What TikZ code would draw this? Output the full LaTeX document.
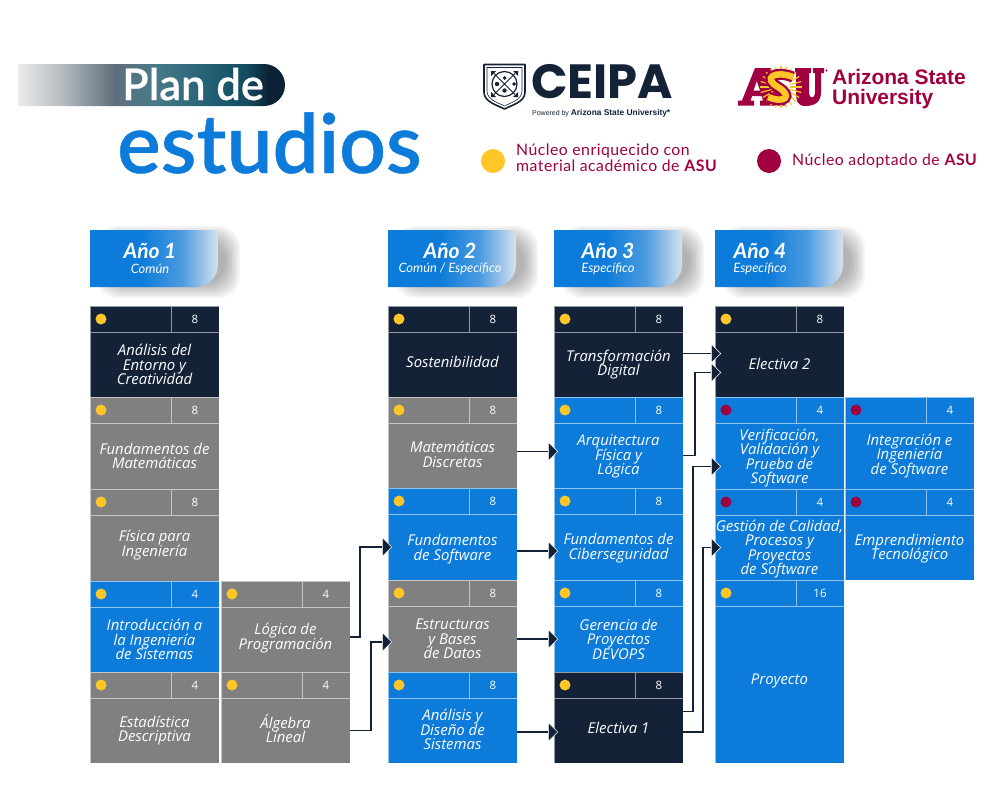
\documentclass[tikz,border=0pt]{standalone}
\usepackage{fontspec}
\setmainfont{Open Sans}
\newfontfamily\latofont{Lato}
\newfontfamily\latosemi[FakeBold=0.5]{Lato Semibold}
\newfontfamily\legendfont[LetterSpace=3]{Lato}
\newfontfamily\poppinsfont{Poppins}
\newfontfamily\armfont[LetterSpace=-0.3]{Liberation Sans}
\usetikzlibrary{arrows.meta}
\definecolor{navy}{HTML}{142238}
\definecolor{slate}{HTML}{808080}
\definecolor{azure}{HTML}{0C7BD9}
\definecolor{gold}{HTML}{FFC627}
\definecolor{wine}{HTML}{A0003F}
\definecolor{barB}{HTML}{B8BDC2}
\definecolor{barC}{HTML}{5F6F7C}
\definecolor{barD}{HTML}{467A88}
\definecolor{barE}{HTML}{1C5A6E}
\definecolor{barG}{HTML}{134A5E}
\definecolor{barF}{HTML}{0C2236}
\definecolor{paleblue}{HTML}{D5E2EE}
\definecolor{midblue}{HTML}{4C9BE0}
\pgfdeclarehorizontalshading{planbar}{100bp}{color(0bp)=(white); color(25bp)=(white!92!black); color(33bp)=(barB); color(43bp)=(barC); color(51bp)=(barD); color(63bp)=(barE); color(68bp)=(barG); color(72bp)=(barF); color(100bp)=(barF)}
\pgfdeclarehorizontalshading{yearfade}{100bp}{color(0bp)=(azure); color(45bp)=(azure); color(61bp)=(midblue); color(75bp)=(paleblue); color(100bp)=(paleblue)}
\newcommand{\celltext}{\fontsize{14.9}{14.5}\selectfont\itshape\setlength{\lineskiplimit}{-5pt}}
\tikzstyle{cell}=[shape=rectangle,draw=white,draw opacity=.55,line width=.8pt,inner sep=0pt,outer sep=0pt,anchor=north west,text=white]
\tikzstyle{dot}=[shape=circle,inner sep=0pt,outer sep=0pt,minimum size=11pt]
\tikzstyle{link}=[-{Triangle[length=10pt,width=20pt,line width=.5pt,color=white,fill=navy]},draw=navy,line width=1.4pt,shorten >=-4pt]
\tikzstyle{yeartitle}=[inner sep=0pt,text=white,font=\latofont\fontsize{21}{21}\selectfont\bfseries\itshape]
\tikzstyle{yearsub}=[inner sep=0pt,text=white,font=\latofont\fontsize{12.9}{13}\selectfont\itshape]
% name, x, y, height, colour, dot colour, credits, title, title offset
\newcommand{\course}[9]{
        \node[cell,fill=#5,minimum width=81pt,minimum height=26pt] (#1h) at (#2,#3) {};
        \node[cell,fill=#5,minimum width=48pt,minimum height=26pt,font=\fontsize{11.5}{12}\selectfont] (#1c) at (#1h.north east) {#7};
        \node[dot,fill=#6] (#1d) at ([xshift=11pt]#1h.west) {};
        \node[cell,fill=#5,minimum width=129pt,minimum height=#4pt-26pt] (#1) at (#1h.south west) {};
        \node[inner sep=0pt,text=white,align=center,font=\celltext] (#1t) at ([yshift=#9pt]#1.center) {#8};
}
% name, x, text x, title, subtitle
\newcommand{\yearbox}[5]{
        \foreach \s in {0,2,...,14}
            \fill[black,opacity=.045,rounded corners=22pt] (#2+20-\s,240-\s) rectangle (#2+136+\s,284+\s);
        \shade[shading=yearfade] (#2,230) -- (#2+128,230) {[rounded corners=22pt] -- (#2+128,287)} -- (#2,287) -- cycle;
        \node[yeartitle] (#1) at (#3,251) {#4};
        \node[yearsub] (#1s) at (#3,268.5) {#5};
}
\begin{document}
\begin{tikzpicture}[x=1pt,y=-1pt]
        \useasboundingbox (0,0) rectangle (1001,801);
        % title
        \shade[shading=planbar,rounded corners=21pt] (18,64) {[sharp corners] -- (18,106)} -- (285,106) -- (285,64) {[sharp corners] -- cycle};
        \node[anchor=base west,inner sep=0pt,text=white,font=\latosemi\fontsize{43.5}{44}\selectfont] (plan) at (122,100) {Plan de};
        \node[anchor=base west,inner sep=0pt,text=azure,font=\latosemi\fontsize{82}{82}\selectfont] (estudios) at (117,173) {estudios};
        % ceipa logo
        \draw[navy,line width=1.6pt,line join=round] (484,64.5) -- (525,64.5) -- (525,92) .. controls (525,102) and (512,105) .. (504.5,109) .. controls (497,105) and (484,102) .. (484,92) -- cycle;
        \draw[navy,line width=.6pt] (487,67.5) -- (522,67.5) -- (522,91) .. controls (522,100) and (510,103) .. (504.5,106) .. controls (499,103) and (487,100) .. (487,91) -- cycle;
        \draw[navy,line width=1.2pt] (504.5,84) circle (12.5pt);
        \draw[navy,line width=1pt] (494,73.5) -- (515,94.5) (515,73.5) -- (494,94.5);
        \fill[navy] (504.5,76) -- (506.5,78) -- (504.5,80) -- (502.5,78) -- cycle (512,84) -- (514,82) -- (516,84) -- (514,86) -- cycle (497,84) circle (2.2pt) (504.5,90.5) circle (2.2pt);
        \fill[navy] (491,71) -- (496,71) -- (491,76) -- cycle (518,71) -- (513,71) -- (518,76) -- cycle (491,97) -- (496,97) -- (491,92) -- cycle (518,97) -- (513,97) -- (518,92) -- cycle;
        \node[anchor=base west,inner sep=0pt,text=navy,font=\poppinsfont\fontsize{48}{48}\selectfont\bfseries] (ceipa) at (531,98) {CEIPA};
        \node[anchor=base west,inner sep=0pt,text=navy,font=\armfont\fontsize{7}{8}\selectfont] (powered) at (532,115) {Powered by {\fontsize{8.4}{8}\selectfont\bfseries Arizona State University*}};
        % asu logo
        \fill[wine,even odd rule] (738,105.5) -- (738,100.5) -- (742,100.5) -- (755,68) -- (771,68) -- (784,100.5) -- (786,100.5) -- (786,105.5) -- (760,105.5) -- (760,100.5) -- (763,100.5) -- (761.5,96) -- (752,96) -- (750.5,100.5) -- (754,100.5) -- (754,105.5) -- cycle (753.5,90.5) -- (760,90.5) -- (756.8,81) -- cycle;
        \fill[wine] (795,68) -- (811,68) -- (811,73) -- (809,73) -- (809,93) .. controls (809,99) and (815,99) .. (815,93) -- (815,73) -- (813,73) -- (813,68) -- (824,68) -- (824,73) -- (821,73) -- (821,92) .. controls (821,102) and (815,106) .. (805,106) .. controls (797,106) and (796,100) .. (796,92) -- (796,73) -- (795,73) -- cycle;
        \fill[wine] (826.5,70.5) circle (1.2pt);
        \foreach \a in {0,15,...,345}
            \draw[gold,line width=1.2pt] (781,87) ++(\a:9pt) -- ++(\a:12pt);
        \draw[wine,line width=11pt] (793,77) .. controls (775,70) and (762,78) .. (778,87) .. controls (793,96) and (785,104) .. (768,97);
        \draw[gold,line width=6.5pt] (793,77) .. controls (775,70) and (762,78) .. (778,87) .. controls (793,96) and (785,104) .. (768,97);
        \node[anchor=north west,inner sep=0pt,align=left,text=wine,font=\armfont\fontsize{21}{20}\selectfont\bfseries] (arizona) at (832,69) {Arizona State\\University};
        % legend
        \node[shape=circle,fill=gold,minimum size=24pt,inner sep=0pt] (enriched) at (493,161) {};
        \node[anchor=west,inner sep=0pt,align=left,text=wine,font=\legendfont\fontsize{15.8}{16}\selectfont] (enrichedtext) at (516,158) {Núcleo enriquecido con\\material académico de \textbf{ASU}};
        \node[shape=circle,fill=wine,minimum size=24pt,inner sep=0pt] (adopted) at (769,161) {};
        \node[anchor=west,inner sep=0pt,text=wine,font=\legendfont\fontsize{15.8}{16}\selectfont] (adoptedtext) at (792,161) {Núcleo adoptado de \textbf{ASU}};
        % years
        \yearbox{year1}{90}{150}{Año 1}{Común}
        \yearbox{year2}{388}{450}{Año 2}{Común / Específico}
        \yearbox{year3}{554}{608}{Año 3}{Específico}
        \yearbox{year4}{715}{760}{Año 4}{Específico}
        % first year
        \course{analisis}{90}{306}{91}{navy}{gold}{8}{Análisis del\\Entorno y\\Creatividad}{0}
        \course{fundmat}{90}{397}{92}{slate}{gold}{8}{Fundamentos de\\Matemáticas}{0}
        \course{fisica}{90}{489}{92}{slate}{gold}{8}{Física para\\Ingeniería}{3}
        \course{intro}{90}{581}{91}{azure}{gold}{4}{Introducción a\\la Ingeniería\\de Sistemas}{0}
        \course{estad}{90}{672}{91}{slate}{gold}{4}{Estadística\\Descriptiva}{0}
        \course{logica}{221}{581}{91}{slate}{gold}{4}{Lógica de\\Programación}{1.5}
        \course{algebra}{221}{672}{91}{slate}{gold}{4}{Álgebra\\Lineal}{2}
        % second year
        \course{sosten}{388}{306}{91}{navy}{gold}{8}{Sostenibilidad}{3}
        \course{discretas}{388}{397}{91}{slate}{gold}{8}{Matemáticas\\Discretas}{1}
        \course{software}{388}{488}{92}{azure}{gold}{8}{Fundamentos\\de Software}{-2}
        \course{datos}{388}{580}{92}{slate}{gold}{8}{Estructuras\\y Bases\\de Datos}{0}
        \course{diseno}{388}{672}{91}{azure}{gold}{8}{Análisis y\\Diseño de\\Sistemas}{1}
        % third year
        \course{transf}{554}{306}{91}{navy}{gold}{8}{Transformación\\Digital}{0}
        \course{arqui}{554}{397}{91}{azure}{gold}{8}{Arquitectura\\Física y\\Lógica}{-1}
        \course{ciber}{554}{488}{92}{azure}{gold}{8}{Fundamentos de\\Ciberseguridad}{-1}
        \course{devops}{554}{580}{92}{azure}{gold}{8}{Gerencia de\\Proyectos\\DEVOPS}{0}
        \course{electuno}{554}{672}{91}{navy}{gold}{8}{Electiva 1}{3}
        % fourth year
        \course{electdos}{715}{306}{91}{navy}{gold}{8}{Electiva 2}{1}
        \course{verif}{715}{397}{92}{azure}{wine}{4}{Verificación,\\Validación y\\Prueba de\\Software}{-2}
        \course{gestion}{715}{489}{91}{azure}{wine}{4}{Gestión de Calidad,\\Procesos y\\Proyectos\\de Software}{-1.5}
        \course{proyecto}{715}{580}{183}{azure}{gold}{16}{Proyecto}{4}
        \course{integra}{845}{397}{92}{azure}{wine}{4}{Integración e\\Ingeniería\\de Software}{0}
        \course{empren}{845}{489}{91}{azure}{wine}{4}{Emprendimiento\\Tecnológico}{-1}
        % prerequisites
        \draw[link] ([yshift=2.5pt]logica.east) -- ++(10,0) |- (software.west);
        \draw[link] (algebra.east) -- ++(21,0) |- ([yshift=-3pt]datos.west);
        \draw[link] ([yshift=4pt]discretas.east) -- ([yshift=4pt]arqui.west);
        \draw[link] ([yshift=-4pt]software.east) -- ([yshift=-4pt]ciber.west);
        \draw[link] (datos.east) -- (devops.west);
        \draw[link] ([yshift=-1.5pt]diseno.east) -- ([yshift=-1.5pt]electuno.west);
        \draw[link,shorten >=-6pt] ([yshift=11pt]transf.east) -- ([yshift=11pt]electdos.west);
        \draw[link,shorten >=-6pt] (arqui.east) -- ++(12,0) |- ([yshift=-8pt]electdos.west);
        \draw[link,shorten >=-6pt] ([yshift=19pt]electuno.east) -- ++(10,0) |- ([yshift=-10.5pt]verif.west);
        \draw[link,shorten >=-6pt] ([yshift=-1.5pt]electuno.east) -- ++(20,0) |- (gestion.west);
\end{tikzpicture}
\end{document}
